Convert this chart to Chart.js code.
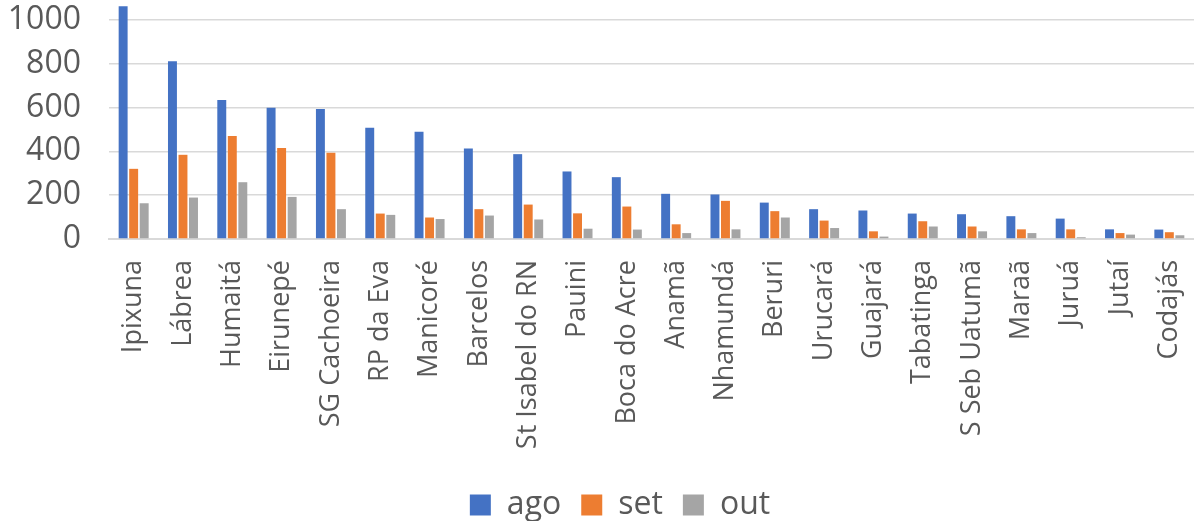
<!DOCTYPE html>
<html>
<head>
<meta charset="utf-8">
<script src="https://cdn.jsdelivr.net/npm/chart.js@4"></script>
<style>
html,body{margin:0;padding:0;background:#fff;}
#wrap{width:1194px;height:521px;position:relative;}
</style>
</head>
<body>
<div id="wrap"><canvas id="c" width="1194" height="521"></canvas></div>
<script>
const categories = ["Ipixuna","Lábrea","Humaitá","Eirunepé","SG Cachoeira","RP da Eva","Manicoré","Barcelos","St Isabel do RN","Pauini","Boca do Acre","Anamã","Nhamundá","Beruri","Urucará","Guajará","Tabatinga","S Seb Uatumã","Maraã","Juruá","Jutaí","Codajás"];
const ago = [1061,811,634,599,593,507,489,413,387,308,282,206,203,166,136,130,116,113,104,93,44,43];
const set = [320,384,470,415,393,116,98,136,157,117,148,67,174,127,84,35,81,57,44,44,27,31];
const out = [163,189,259,192,136,110,91,107,89,47,43,27,44,98,50,11,57,35,27,8,20,17];
const yTicks = [0,200,400,600,800,1000];

const FONT = "'Open Sans', 'Noto Sans', sans-serif";
const TXT = '#595959';

const legendShift = {
  id:'legendShift',
  afterLayout(chart){
    if (chart.legend){ chart.legend.left += 23; chart.legend.right += 23; }
  }
};

new Chart(document.getElementById('c'), {
  type: 'bar',
  data: {
    labels: categories,
    datasets: [
      {label:'ago', data: ago, backgroundColor:'#4472C4'},
      {label:'set', data: set, backgroundColor:'#ED7D31'},
      {label:'out', data: out, backgroundColor:'#A5A5A5'}
    ]
  },
  plugins:[legendShift],
  options: {
    responsive:false,
    animation:false,
    layout:{padding:{top:0,right:0,left:0,bottom:-10}},
    datasets:{bar:{barPercentage:0.85, categoryPercentage:0.64}},
    plugins:{
      tooltip:{enabled:false},
      legend:{
        position:'bottom',
        labels:{
          boxWidth:21, boxHeight:21, padding:20,
          color:TXT, font:{family:FONT,size:32}
        }
      }
    },
    scales:{
      x:{
        grid:{display:false, drawTicks:false},
        border:{color:'#d9d9d9', width:2},
        ticks:{
          color:TXT, font:{family:FONT,size:27},
          minRotation:90, maxRotation:90, padding:21, autoSkip:false
        },
        afterFit(s){ s.paddingLeft=0; s.paddingRight=0; s.height=230; }
      },
      y:{
        min:0, max:1090,
        grid:{color:'#d9d9d9', lineWidth:1.5, drawTicks:false},
        border:{display:false},
        afterBuildTicks(s){ s.ticks = yTicks.map(v=>({value:v})); },
        ticks:{color:TXT, font:{family:FONT,size:32}, padding:28, callback:(v)=>String(v)},
        afterFit(s){ s.width=109; s.paddingTop=0; s.paddingBottom=0; }
      }
    }
  }
});
</script>
</body>
</html>
